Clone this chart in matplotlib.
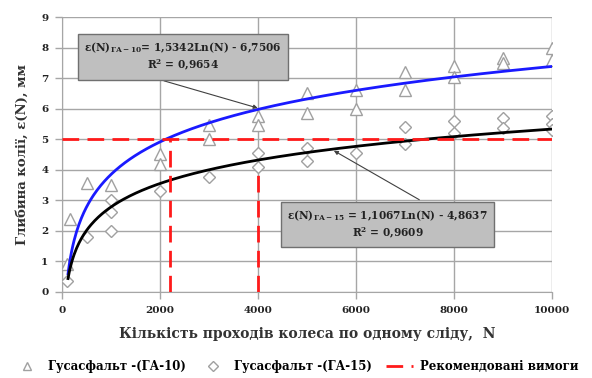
import numpy as np
import matplotlib
matplotlib.use('Agg')
from matplotlib import pyplot as plt
from matplotlib.lines import Line2D

plt.rcParams['font.family'] = ['DejaVu Serif']
plt.rcParams['font.weight'] = 'bold'
plt.rcParams['mathtext.fontset'] = 'custom'
plt.rcParams['mathtext.rm'] = 'DejaVu Serif:bold'
plt.rcParams['mathtext.it'] = 'DejaVu Serif:bold'
plt.rcParams['mathtext.bf'] = 'DejaVu Serif:bold'

# measured rut depth, hot mix asphalt GA-10
n_ga10 = [100, 150, 500, 1000, 2000, 2000, 3000, 3000, 4000, 4000,
          5000, 5000, 6000, 6000, 7000, 7000, 8000, 8000, 9000, 9000,
          10000, 10000]
eps_ga10 = [0.9, 2.4, 3.55, 3.5, 4.5, 4.2, 5.45, 5.0, 5.75, 5.45,
            6.5, 5.85, 6.6, 6.0, 7.2, 6.6, 7.4, 7.05, 7.65, 7.5,
            8.0, 7.6]

# measured rut depth, hot mix asphalt GA-15
n_ga15 = [100, 500, 1000, 1000, 1000, 2000, 3000, 4000, 4000, 5000,
          5000, 6000, 7000, 7000, 8000, 8000, 9000, 9000, 10000,
          10000, 10000]
eps_ga15 = [0.35, 1.8, 3.0, 2.6, 2.0, 3.3, 3.75, 4.55, 4.1, 4.7,
            4.3, 4.55, 5.4, 4.85, 5.6, 5.2, 5.7, 5.35, 5.75, 5.5,
            5.3]

# logarithmic trend lines eps = a*ln(N) + b
fit_ga10 = (1.5342, -6.7506, 0.9654)
fit_ga15 = (1.1067, -4.8637, 0.9609)

# recommended limits
eps_limit = 5.0
n_limit = [2200, 4000]
eps_at_limit = [5.0, 4.1]

fig = plt.figure(figsize=(5.92, 3.78), dpi=100)
ax = fig.add_axes([0.105, 0.228, 0.827, 0.727])

grid_c = '#a6a6a6'
ax.set_xlim(0, 10000)
ax.set_ylim(0, 9)
ax.set_xticks(range(0, 10001, 2000))
ax.set_yticks(range(0, 10))
ax.grid(True, color=grid_c, lw=1.0)
ax.set_axisbelow(True)
for side in ['top', 'right']:
    ax.spines[side].set_visible(False)
for side in ['left', 'bottom']:
    ax.spines[side].set_color(grid_c)
ax.tick_params(axis='both', colors=grid_c, length=5, width=1,
               labelsize=7.5, labelcolor='#222222', pad=5)
for lab in ax.get_xticklabels() + ax.get_yticklabels():
    lab.set_fontweight('bold')

ax.plot(n_ga10, eps_ga10, ls='none', marker='^', ms=8, mfc='white',
        mec='#a0a0a0', mew=1.0, zorder=3)
ax.plot(n_ga15, eps_ga15, ls='none', marker='D', ms=6, mfc='white',
        mec='#a0a0a0', mew=1.0, zorder=3)

n = np.linspace(120, 10000, 400)
ax.plot(n, fit_ga10[0] * np.log(n) + fit_ga10[1], color='#1a1aff', lw=2,
        zorder=4)
ax.plot(n, fit_ga15[0] * np.log(n) + fit_ga15[1], color='black', lw=2,
        zorder=4)

red = '#ff1a1a'
ax.plot([0, 10000], [eps_limit, eps_limit], color=red, lw=2,
        dashes=(6, 3), zorder=5)
for nx, ey in zip(n_limit, eps_at_limit):
    ax.plot([nx, nx], [0, ey], color=red, lw=2, dashes=(6, 3), zorder=5)

box = dict(boxstyle='square,pad=0.6', fc='#bfbfbf', ec='#707070', lw=1)
txt1 = ('ε(N)$_{\\mathrm{ГА-10}}$= %.4fLn(N) - %.4f\nR$^2$ = %.4f'
        % (fit_ga10[0], -fit_ga10[1], fit_ga10[2])).replace('.', ',')
txt2 = ('ε(N)$_{\\mathrm{ГА-15}}$ = %.4fLn(N) - %.4f\nR$^2$ = %.4f'
        % (fit_ga15[0], -fit_ga15[1], fit_ga15[2])).replace('.', ',')
ax.annotate(txt1, xy=(4050, fit_ga10[0] * np.log(4050) + fit_ga10[1]),
            xytext=(2470, 7.7), ha='center', va='center', fontsize=7.6,
            fontweight='bold', color='#222222', bbox=box, zorder=6,
            linespacing=1.3,
            arrowprops=dict(arrowstyle='-|>', color='#404040', lw=0.8,
                            mutation_scale=6, relpos=(0.27, 0.0)))
ax.annotate(txt2, xy=(5500, fit_ga15[0] * np.log(5500) + fit_ga15[1]),
            xytext=(6650, 2.2), ha='center', va='center', fontsize=7.6,
            fontweight='bold', color='#222222', bbox=box, zorder=6,
            linespacing=1.3,
            arrowprops=dict(arrowstyle='-|>', color='#404040', lw=0.8,
                            mutation_scale=6, relpos=(0.73, 1.0)))

ax.set_ylabel('Глибина колії, ε(N), мм', fontsize=9.5, fontweight='bold',
              color='#333333', labelpad=9)
ax.set_xlabel('Кількість проходів колеса по одному сліду,  N', fontsize=10,
              fontweight='bold', color='#333333', labelpad=9)

handles = [
    Line2D([], [], ls='none', marker='^', ms=6, mfc='white', mec='#a0a0a0'),
    Line2D([], [], ls='none', marker='D', ms=5, mfc='white', mec='#a0a0a0'),
    Line2D([], [], color=red, lw=2, dashes=(6, 3)),
]
labels = ['Гусасфальт -(ГА-10)', 'Гусасфальт -(ГА-15)', 'Рекомендовані вимоги']
fig.legend(handles, labels, loc='center', bbox_to_anchor=(0.5, 0.03),
           ncol=3, frameon=False, columnspacing=1.2, handlelength=2.3,
           handletextpad=0.6, prop={'weight': 'bold', 'size': 8.5})

fig.savefig('out.png', dpi=100)
